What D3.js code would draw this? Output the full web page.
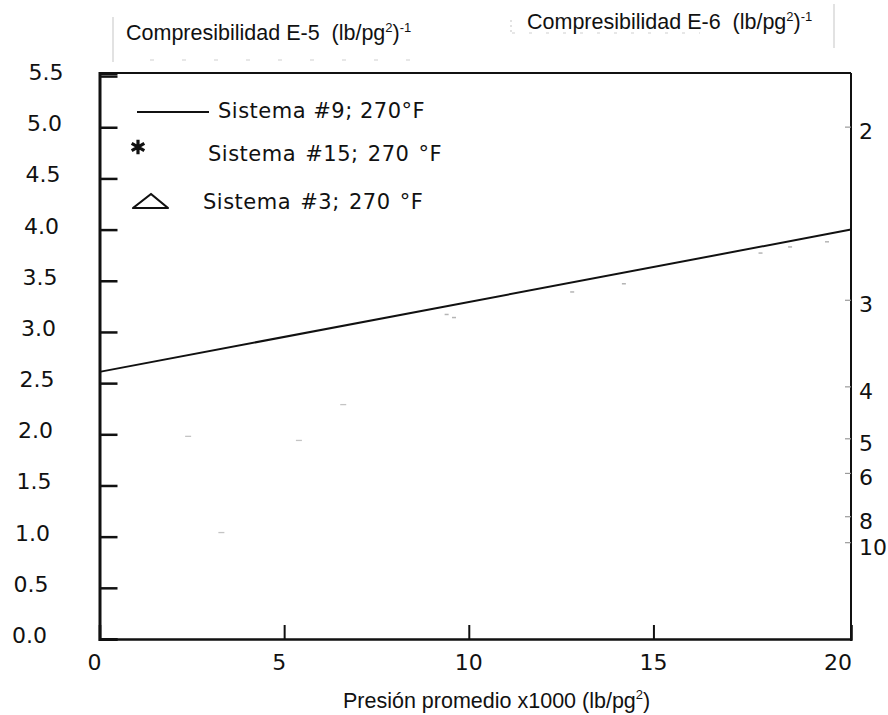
<!DOCTYPE html>
<html>
<head>
<meta charset="utf-8">
<script src="https://cdn.jsdelivr.net/npm/d3@7"></script>
<style>
  html, body { margin: 0; padding: 0; background: #ffffff; }
  svg { display: block; }
  .tick-label { font-family: "DejaVu Sans", sans-serif; font-size: 22px; fill: #111; }
  .title { font-family: "Liberation Sans", Arial, sans-serif; font-size: 21.5px; fill: #111; white-space: pre; }
  .legend { font-family: "DejaVu Sans", sans-serif; font-size: 21px; fill: #111; letter-spacing: 0.5px; white-space: pre; }
</style>
</head>
<body>
<svg id="chart" width="888" height="715"></svg>
<script>
// Pressure axis (x1000 lb/pg²)
const xTicks = [0, 5, 10, 15, 20];
// Compressibility E-5 (lb/pg²)^-1, left axis
const yTicks = [0.0, 0.5, 1.0, 1.5, 2.0, 2.5, 3.0, 3.5, 4.0, 4.5, 5.0, 5.5];
// Compressibility E-6 labels on the right axis (reciprocal scale)
const rightTicks = [2, 3, 4, 5, 6, 8, 10];

// Sistema #9 fitted line (pressure, compressibility)
const line9X = [0, 20.35];
const line9Y = [2.61, 4.0];

// Sistema #15 and Sistema #3 measured points (faint)
const pts15X = [9.4, 9.6, 12.8, 14.2, 17.9, 18.7, 19.7];
const pts15Y = [3.2, 3.17, 3.42, 3.5, 3.8, 3.86, 3.91];
const pts3X = [2.4, 6.6, 5.4, 3.3];
const pts3Y = [1.98, 2.29, 1.94, 1.04];

const legendLabels = ["Sistema #9; 270°F", "Sistema #15; 270 °F", "Sistema #3; 270 °F"];

const svg = d3.select("#chart");

const x = d3.scaleLinear().domain([0, 20.35]).range([99.5, 851]);
const y = d3.scaleLinear().domain([0, 5.53]).range([639, 73]);
// right axis: reciprocal relation with the left compressibility units
const rInv = d3.scaleLinear().domain([1 / 2, 1 / 10]).range([4.962, 0.902]);
const yRight = r => y(rInv(1 / r));

const ink = "#111";

// faint scan guides near the top titles
const guides = svg.append("g").attr("stroke", "#cfcfcf").attr("stroke-width", 1.2);
guides.append("line").attr("x1", 113).attr("x2", 113).attr("y1", 17).attr("y2", 62);
guides.append("line").attr("x1", 834).attr("x2", 834).attr("y1", 4).attr("y2", 48);
guides.append("line").attr("x1", 511).attr("x2", 511).attr("y1", 20).attr("y2", 34).attr("stroke-dasharray", "2,3");
guides.append("line").attr("x1", 512).attr("x2", 700).attr("y1", 33).attr("y2", 33).attr("stroke-dasharray", "3,14");
guides.append("line").attr("x1", 150).attr("x2", 420).attr("y1", 60).attr("y2", 60).attr("stroke-dasharray", "4,28");

// top titles
function titleText(tx, ty, base) {
  const t = svg.append("text").attr("class", "title").attr("x", tx).attr("y", ty);
  t.append("tspan").text(base + "  (lb/pg");
  t.append("tspan").attr("font-size", 13).attr("dy", -8).text("2");
  t.append("tspan").attr("dy", 8).text(")");
  t.append("tspan").attr("font-size", 13).attr("dy", -8).text("-1");
}
titleText(126, 40, "Compresibilidad E-5");
titleText(527, 29, "Compresibilidad E-6");

// frame
const frame = svg.append("g").attr("stroke", ink).attr("fill", "none");
frame.append("line").attr("x1", x(0)).attr("x2", x(20.35)).attr("y1", y(5.53)).attr("y2", y(5.53)).attr("stroke-width", 2.2);
frame.append("line").attr("x1", x(20.35)).attr("x2", x(20.35)).attr("y1", y(5.53)).attr("y2", y(0) + 2).attr("stroke-width", 2);

// left axis
const yAxis = d3.axisRight(y).tickValues(yTicks).tickSize(18).tickFormat("");
const gy = svg.append("g").attr("transform", `translate(${x(0)},0)`).call(yAxis);
gy.select(".domain").attr("stroke", ink).attr("stroke-width", 3);
gy.selectAll(".tick line").attr("stroke", ink).attr("stroke-width", 2.5);

svg.append("g").selectAll("text").data(yTicks).join("text")
  .attr("class", "tick-label")
  .attr("text-anchor", "end")
  .attr("x", d => 47 + 3 * d)
  .attr("y", d => y(d) - 4)
  .attr("dy", "0.36em")
  .text(d => d.toFixed(1));

// bottom axis
const xAxis = d3.axisTop(x).tickValues(xTicks.filter(d => d > 0 && d < 20)).tickSize(14).tickFormat("");
const gx = svg.append("g").attr("transform", `translate(0,${y(0)})`).call(xAxis);
gx.select(".domain").attr("stroke", ink).attr("stroke-width", 2.6);
gx.selectAll(".tick line").attr("stroke", ink).attr("stroke-width", 2);

svg.append("g").selectAll("text").data(xTicks).join("text")
  .attr("class", "tick-label")
  .attr("text-anchor", "middle")
  .attr("x", d => x(d) - (d < 10 ? 5 : 0))
  .attr("y", y(0) + 31)
  .text(d => d);

// right axis labels and faint ticks
svg.append("g").selectAll("line").data(rightTicks).join("line")
  .attr("x1", x(20.35) - 6).attr("x2", x(20.35))
  .attr("y1", d => yRight(d) - 4).attr("y2", d => yRight(d) - 4)
  .attr("stroke", "#9a9a9a").attr("stroke-width", 1.2);
svg.append("g").selectAll("text").data(rightTicks).join("text")
  .attr("class", "tick-label")
  .attr("x", 859)
  .attr("y", d => yRight(d))
  .attr("dy", "0.36em")
  .text(d => d);

// x axis title
const xt = svg.append("text").attr("class", "title").attr("x", 343).attr("y", 708).attr("font-size", 21);
xt.append("tspan").text("Presión promedio x1000 (lb/pg");
xt.append("tspan").attr("font-size", 13).attr("dy", -9).text("2");
xt.append("tspan").attr("dy", 9).text(")");

// Sistema #9 line
const lineGen = d3.line().x(d => x(d[0])).y(d => y(d[1]));
svg.append("path")
  .datum(d3.zip(line9X, line9Y))
  .attr("d", lineGen)
  .attr("fill", "none").attr("stroke", ink).attr("stroke-width", 2);

// faint measured points
svg.append("g").selectAll("line").data(d3.zip(pts15X, pts15Y)).join("line")
  .attr("x1", d => x(d[0]) - 2).attr("x2", d => x(d[0]) + 2)
  .attr("y1", d => y(d[1]) + 3).attr("y2", d => y(d[1]) + 3)
  .attr("stroke", "#b5b5b5").attr("stroke-width", 1.5);
svg.append("g").selectAll("line").data(d3.zip(pts3X, pts3Y)).join("line")
  .attr("x1", d => x(d[0]) - 3).attr("x2", d => x(d[0]) + 3)
  .attr("y1", d => y(d[1])).attr("y2", d => y(d[1]))
  .attr("stroke", "#c4c4c4").attr("stroke-width", 1.3);

// legend
const lg = svg.append("g");
lg.append("line").attr("x1", 137).attr("x2", 209).attr("y1", 112).attr("y2", 112)
  .attr("stroke", ink).attr("stroke-width", 2);
lg.append("text").attr("class", "legend").attr("x", 218).attr("y", 118).text(legendLabels[0]);

lg.append("path")
  .attr("d", d3.symbol().type(d3.symbolAsterisk).size(150)())
  .attr("transform", "translate(138,147)")
  .attr("stroke", ink).attr("stroke-width", 3.2).attr("fill", "none");
lg.append("text").attr("class", "legend").attr("x", 208).attr("y", 161)
  .attr("word-spacing", 2).text(legendLabels[1]);

lg.append("path")
  .attr("d", "M133,208 L168,208 L151,194 Z")
  .attr("stroke", ink).attr("stroke-width", 2.2).attr("fill", "none").attr("stroke-linejoin", "round");
lg.append("text").attr("class", "legend").attr("x", 203).attr("y", 209)
  .attr("word-spacing", 2).text(legendLabels[2]);
</script>
</body>
</html>
